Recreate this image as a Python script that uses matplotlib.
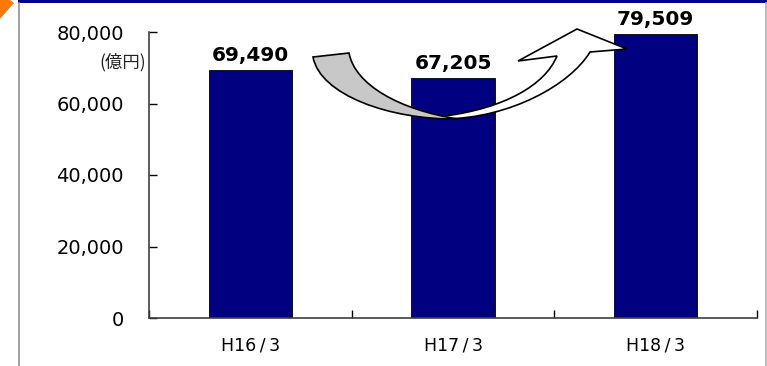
import numpy as np
import matplotlib.pyplot as plt
from matplotlib.path import Path
from matplotlib.patches import PathPatch, Polygon, Rectangle

# balance at end of each fiscal period (億円)
periods = ["H16\u2009/\u20093", "H17\u2009/\u20093", "H18\u2009/\u20093"]
balance = [69490, 67205, 79509]
yticks = [0, 20000, 40000, 60000, 80000]

W, H = 767, 366
fig = plt.figure(figsize=(W / 100, H / 100), dpi=100)
plt.rcParams['font.family'] = ['DejaVu Sans']

def px(x, y):
    # pixel position (from top-left) -> figure fraction
    return (x / W, 1 - y / H)

ax = fig.add_axes([149 / W, 1 - 318 / H, (757 - 149) / W, (318 - 32) / H])

x = np.arange(len(periods))
ax.bar(x, balance, width=0.41, color='#000080', edgecolor='black', linewidth=0.6, zorder=2)
for xi, v in zip(x, balance):
    ax.annotate(f"{v:,}", (xi, v), xytext=(0, 6.5), textcoords='offset points',
                ha='center', va='baseline', fontsize=14.5, fontweight='bold', color='black')

ax.set_xlim(-0.5, len(periods) - 0.5)
ax.set_ylim(0, 80000)
ax.set_yticks(yticks)
ax.set_yticklabels([f"{t:,}" for t in yticks], fontsize=14)
ax.set_xticks(x)
ax.set_xticklabels(periods, fontsize=12.5)
ax.set_xticks(np.arange(len(periods) + 1) - 0.5, minor=True)
ax.tick_params(axis='y', direction='in', length=6, width=1, pad=18, colors='black')
ax.tick_params(axis='x', which='major', length=0, pad=13)
ax.tick_params(axis='x', which='minor', direction='in', length=6, width=1)
for s in ['top', 'right']:
    ax.spines[s].set_visible(False)
for s in ['left', 'bottom']:
    ax.spines[s].set_color('#404040')
    ax.spines[s].set_linewidth(1.2)

fig.text(*px(146, 62), "(億円)", ha='right', va='center', fontsize=12.5,
         family=['Noto Sans CJK JP', 'DejaVu Sans'], color='#222222')

# curved arrow: white front band with head, grey back band
front = [px(445, 119),
         px(510, 118), px(570, 85), px(590, 52),
         px(627, 49), px(577, 29), px(518, 61), px(557, 56),
         px(545, 85), px(505, 108), px(445, 116),
         px(445, 119)]
codes = [Path.MOVETO, Path.CURVE4, Path.CURVE4, Path.CURVE4,
         Path.LINETO, Path.LINETO, Path.LINETO, Path.LINETO,
         Path.CURVE4, Path.CURVE4, Path.CURVE4, Path.CLOSEPOLY]
ax.add_patch(PathPatch(Path(front, codes), facecolor='white', edgecolor='black',
                       linewidth=1.2, transform=fig.transFigure, clip_on=False, zorder=5))
back = [px(313, 57),
        px(320, 95), px(390, 120), px(458, 119),
        px(400, 110), px(355, 85), px(349, 53),
        px(313, 57)]
codes = [Path.MOVETO, Path.CURVE4, Path.CURVE4, Path.CURVE4,
         Path.CURVE4, Path.CURVE4, Path.CURVE4, Path.CLOSEPOLY]
ax.add_patch(PathPatch(Path(back, codes), facecolor='#C8C8C8', edgecolor='black',
                       linewidth=1.2, transform=fig.transFigure, clip_on=False, zorder=6))

# page frame: blue top band, grey side rules, orange marker
fig.patches.append(Rectangle(px(18, 3), (W - 18) / W, 3 / H, transform=fig.transFigure,
                             facecolor='#000090', edgecolor='none'))
fig.add_artist(plt.Line2D([18.5 / W, 18.5 / W], [0, 1 - 3 / H], color='#909090', lw=1.2))
fig.add_artist(plt.Line2D([766 / W, 766 / W], [0, 1 - 3 / H], color='#B0B0B0', lw=1.2))
fig.patches.append(Polygon([px(0, -8), px(14, 3), px(0, 19)], closed=True,
                           transform=fig.transFigure, facecolor='#FF7A00', edgecolor='none'))

fig.savefig("out.png", dpi=100)
